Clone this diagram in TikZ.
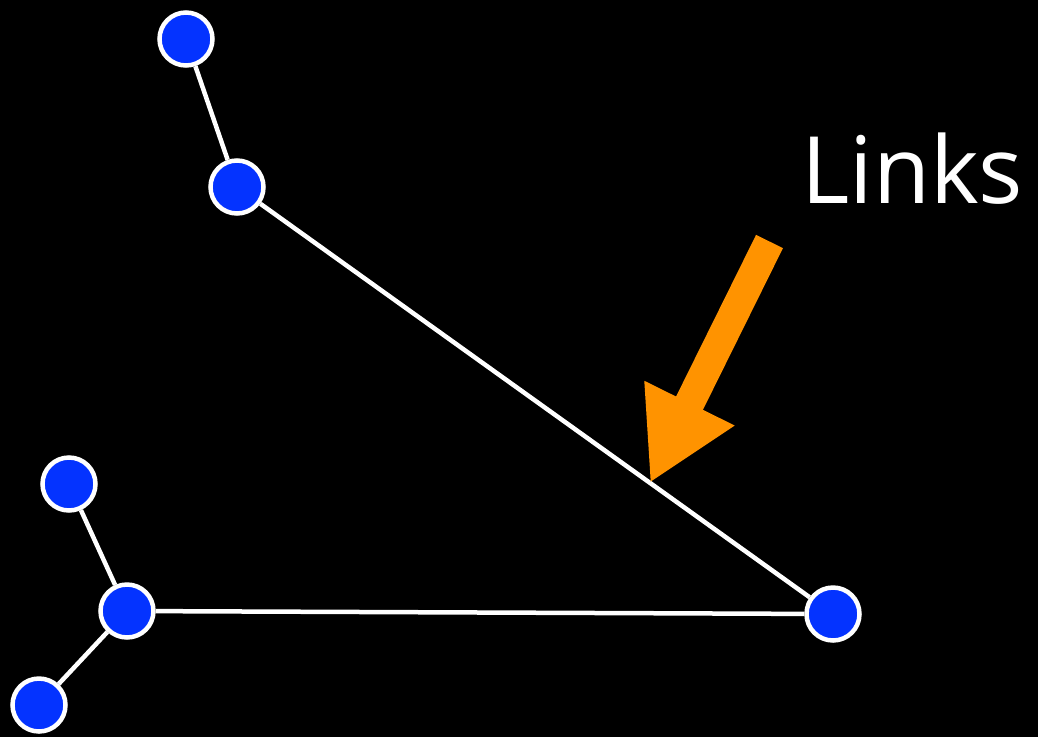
\documentclass[tikz,border=0pt]{standalone}
\usepackage{fontspec}
\setmainfont{Open Sans}
\usepackage{tikz}
\usetikzlibrary{arrows.meta,calc,backgrounds}
\definecolor{nodeblue}{HTML}{0433FF}
\definecolor{pointerorange}{HTML}{FF9300}
\tikzset{
  % graf
  gn/.style={circle,draw=white,fill=nodeblue,line width=4.5pt,inner sep=0pt,
             minimum size=53pt},
  gl/.style={draw=white,line width=4.5pt},
  % pil
  pointer/.style={draw=pointerorange,line width=30pt,
    -{Triangle[length=89pt,width=94pt]}},
  lbl/.style={text=white,font=\fontsize{93}{96}\selectfont,inner sep=0pt},
}
\begin{document}
\begin{tikzpicture}[x=1pt,y=-1pt]
  \node[gn] (top)   at (186,39)  {};
  \node[gn] (upper) at (237,187) {};
  \node[gn] (left)  at (69,484)  {};
  \node[gn] (hub)   at (127,611) {};
  \node[gn] (low)   at (39,705)  {};
  \node[gn] (right) at (833,614) {};
  \begin{scope}[on background layer]
  \fill[black] (0,0) rectangle (1038,737);
  \draw[gl] (top) -- (upper);
  \draw[gl] (upper) -- (right);
  \draw[gl] (left) -- (hub);
  \draw[gl] (hub) -- (low);
  \draw[gl] (hub) -- (right);
  \end{scope}
  \coordinate (hit) at ($(upper)!0.693!(right)$);
  \coordinate (tail) at (769.5,241.5);
  \draw[pointer] (tail) -- (hit);
  \node[lbl,anchor=base west] (links) at (801,203) {Links};
\end{tikzpicture}
\end{document}
